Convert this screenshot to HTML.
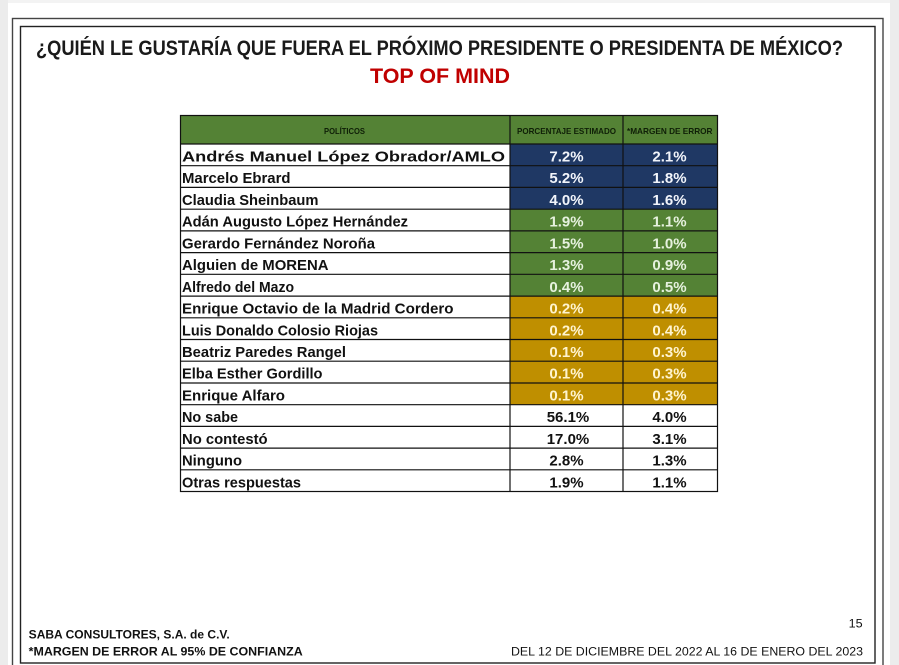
<!DOCTYPE html>
<html><head><meta charset="utf-8"><style>
html,body{margin:0;padding:0;background:#fff;}
svg{display:block;}
text{font-family:"Liberation Sans",Arial,sans-serif;}
</style></head><body>
<svg width="899" height="665" viewBox="0 0 899 665" xmlns="http://www.w3.org/2000/svg">
<rect x="0" y="0" width="899" height="665" fill="#ffffff"/>
<rect x="0" y="0" width="899" height="3" fill="#f3f3f3"/>
<rect x="0" y="0" width="8" height="665" fill="#ececec"/>
<rect x="890" y="0" width="9" height="665" fill="#ececec"/>
<rect x="12.5" y="18.5" width="870.5" height="650" fill="none" stroke="#444" stroke-width="1.4"/>
<rect x="20.5" y="26.5" width="854.5" height="636.5" fill="none" stroke="#222" stroke-width="1.4"/>

<text x="36" y="55" font-size="21" font-weight="bold" fill="#1a1a1a" textLength="807" lengthAdjust="spacingAndGlyphs">¿QUIÉN LE GUSTARÍA QUE FUERA EL PRÓXIMO PRESIDENTE O PRESIDENTA DE MÉXICO?</text>
<text x="370" y="83" font-size="21" font-weight="bold" fill="#c00000" textLength="140" lengthAdjust="spacingAndGlyphs">TOP OF MIND</text>

<!-- header -->
<rect x="180" y="115" width="537.5" height="29" fill="#548235"/>
<text x="324" y="134" font-size="8.5" font-weight="bold" fill="#0f1f07" textLength="41" lengthAdjust="spacingAndGlyphs">POLÍTICOS</text>
<text x="517" y="134" font-size="8.5" font-weight="bold" fill="#0f1f07" textLength="99" lengthAdjust="spacingAndGlyphs">PORCENTAJE ESTIMADO</text>
<text x="627" y="134" font-size="8.5" font-weight="bold" fill="#0f1f07" textLength="85.5" lengthAdjust="spacingAndGlyphs">*MARGEN DE ERROR</text>

<!-- cell fills -->
<g>
<rect x="510" y="144" width="207.5" height="65.2" fill="#1f3864"/>
<rect x="510" y="209.2" width="207.5" height="86.9" fill="#548235"/>
<rect x="510" y="296.1" width="207.5" height="108.6" fill="#bf8f00"/>
</g>

<!-- grid -->
<g stroke="#111" stroke-width="1.2" fill="none">
<rect x="180.5" y="115.5" width="537" height="376"/>
<line x1="510" y1="115" x2="510" y2="491.5"/>
<line x1="623" y1="115" x2="623" y2="491.5"/>
<line x1="180" y1="144" x2="717.5" y2="144"/>
<line x1="180" y1="165.7" x2="717.5" y2="165.7"/>
<line x1="180" y1="187.4" x2="717.5" y2="187.4"/>
<line x1="180" y1="209.2" x2="717.5" y2="209.2"/>
<line x1="180" y1="230.9" x2="717.5" y2="230.9"/>
<line x1="180" y1="252.6" x2="717.5" y2="252.6"/>
<line x1="180" y1="274.3" x2="717.5" y2="274.3"/>
<line x1="180" y1="296.1" x2="717.5" y2="296.1"/>
<line x1="180" y1="317.8" x2="717.5" y2="317.8"/>
<line x1="180" y1="339.5" x2="717.5" y2="339.5"/>
<line x1="180" y1="361.2" x2="717.5" y2="361.2"/>
<line x1="180" y1="383.0" x2="717.5" y2="383.0"/>
<line x1="180" y1="404.7" x2="717.5" y2="404.7"/>
<line x1="180" y1="426.4" x2="717.5" y2="426.4"/>
<line x1="180" y1="448.1" x2="717.5" y2="448.1"/>
<line x1="180" y1="469.8" x2="717.5" y2="469.8"/>
</g>

<!-- names -->
<g font-size="15" font-weight="bold" fill="#111">
<text x="182" y="161.5" textLength="323" lengthAdjust="spacingAndGlyphs">Andrés Manuel López Obrador/AMLO</text>
<text x="182" y="183.2" textLength="108.5" lengthAdjust="spacingAndGlyphs">Marcelo Ebrard</text>
<text x="182" y="204.9" textLength="136.5" lengthAdjust="spacingAndGlyphs">Claudia Sheinbaum</text>
<text x="182" y="226.7" textLength="226" lengthAdjust="spacingAndGlyphs">Adán Augusto López Hernández</text>
<text x="182" y="248.4" textLength="193" lengthAdjust="spacingAndGlyphs">Gerardo Fernández Noroña</text>
<text x="182" y="270.1" textLength="146.5" lengthAdjust="spacingAndGlyphs">Alguien de MORENA</text>
<text x="182" y="291.8" textLength="112" lengthAdjust="spacingAndGlyphs">Alfredo del Mazo</text>
<text x="182" y="313.6" textLength="271.5" lengthAdjust="spacingAndGlyphs">Enrique Octavio de la Madrid Cordero</text>
<text x="182" y="335.3" textLength="196" lengthAdjust="spacingAndGlyphs">Luis Donaldo Colosio Riojas</text>
<text x="182" y="357.0" textLength="164" lengthAdjust="spacingAndGlyphs">Beatriz Paredes Rangel</text>
<text x="182" y="378.7" textLength="140.5" lengthAdjust="spacingAndGlyphs">Elba Esther Gordillo</text>
<text x="182" y="400.5" textLength="103" lengthAdjust="spacingAndGlyphs">Enrique Alfaro</text>
<text x="182" y="422.2" textLength="56" lengthAdjust="spacingAndGlyphs">No sabe</text>
<text x="182" y="443.9" textLength="85.6" lengthAdjust="spacingAndGlyphs">No contestó</text>
<text x="182" y="465.6" textLength="60" lengthAdjust="spacingAndGlyphs">Ninguno</text>
<text x="182" y="487.3" textLength="119" lengthAdjust="spacingAndGlyphs">Otras respuestas</text>
</g>

<!-- values -->
<g font-size="15" font-weight="bold" text-anchor="middle">
<g fill="#f2f5fb">
<text x="566.5" y="161.5">7.2%</text><text x="669.5" y="161.5">2.1%</text>
<text x="566.5" y="183.2">5.2%</text><text x="669.5" y="183.2">1.8%</text>
<text x="566.5" y="204.9">4.0%</text><text x="669.5" y="204.9">1.6%</text>
</g>
<g fill="#e6f1de">
<text x="566.5" y="226.7">1.9%</text><text x="669.5" y="226.7">1.1%</text>
<text x="566.5" y="248.4">1.5%</text><text x="669.5" y="248.4">1.0%</text>
<text x="566.5" y="270.1">1.3%</text><text x="669.5" y="270.1">0.9%</text>
<text x="566.5" y="291.8">0.4%</text><text x="669.5" y="291.8">0.5%</text>
</g>
<g fill="#fff4cf">
<text x="566.5" y="313.6">0.2%</text><text x="669.5" y="313.6">0.4%</text>
<text x="566.5" y="335.3">0.2%</text><text x="669.5" y="335.3">0.4%</text>
<text x="566.5" y="357.0">0.1%</text><text x="669.5" y="357.0">0.3%</text>
<text x="566.5" y="378.7">0.1%</text><text x="669.5" y="378.7">0.3%</text>
<text x="566.5" y="400.5">0.1%</text><text x="669.5" y="400.5">0.3%</text>
</g>
<g fill="#111">
<text x="568" y="422.2">56.1%</text><text x="669.5" y="422.2">4.0%</text>
<text x="568" y="443.9">17.0%</text><text x="669.5" y="443.9">3.1%</text>
<text x="566.5" y="465.6">2.8%</text><text x="669.5" y="465.6">1.3%</text>
<text x="566.5" y="487.3">1.9%</text><text x="669.5" y="487.3">1.1%</text>
</g>
</g>

<!-- footer -->
<text x="848.6" y="627.5" font-size="11.5" fill="#111" textLength="14" lengthAdjust="spacingAndGlyphs">15</text>
<text x="28.7" y="638.5" font-size="11.5" font-weight="bold" fill="#111" textLength="201" lengthAdjust="spacingAndGlyphs">SABA CONSULTORES, S.A. de C.V.</text>
<text x="28.7" y="655.5" font-size="11.5" font-weight="bold" fill="#111" textLength="274" lengthAdjust="spacingAndGlyphs">*MARGEN DE ERROR AL 95% DE CONFIANZA</text>
<text x="511" y="655.5" font-size="11.5" fill="#111" textLength="352" lengthAdjust="spacingAndGlyphs">DEL 12 DE DICIEMBRE DEL 2022 AL 16 DE ENERO DEL 2023</text>
</svg>
</body></html>
